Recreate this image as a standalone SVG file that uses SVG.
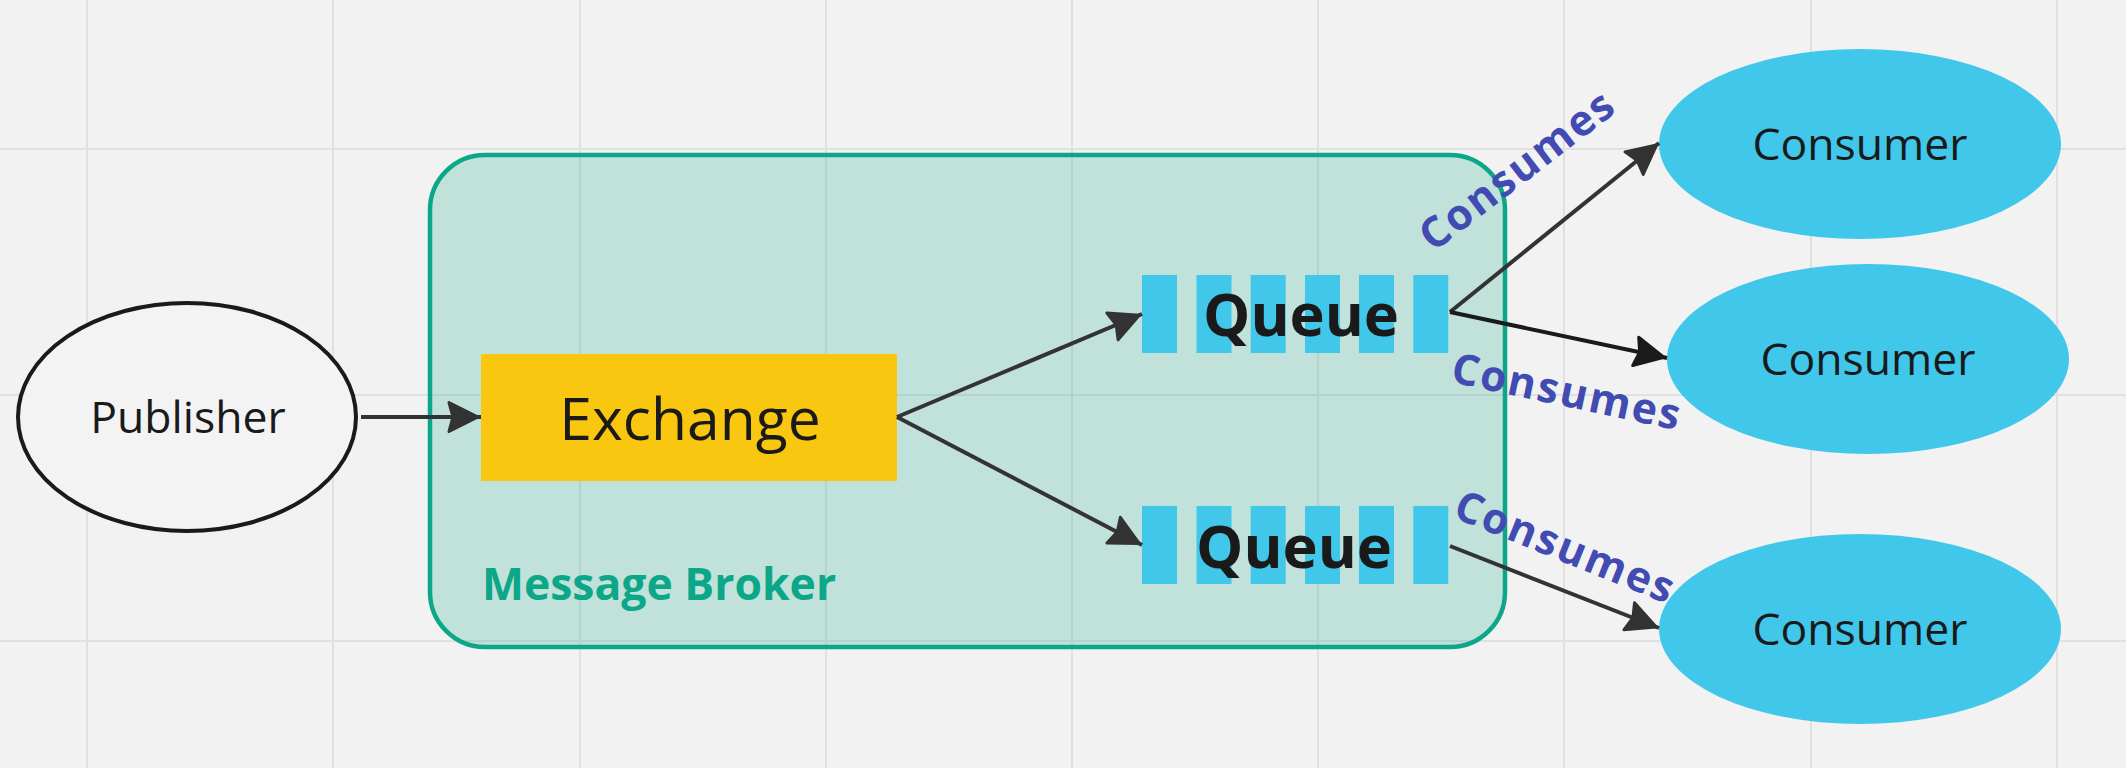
<svg xmlns="http://www.w3.org/2000/svg" width="2126" height="768" viewBox="0 0 2126 768">
<style>
.grid line{stroke:#E0E0E0;stroke-width:2}
.lbl{font-family:"Open Sans","Liberation Sans",sans-serif;fill:#1a1a1a;text-anchor:middle}
.cons{font-family:"Open Sans","Liberation Sans",sans-serif;font-weight:700;font-size:42.5px;letter-spacing:2px;fill:#414BB2;text-anchor:middle}
.bar{fill:#40C7EA}
.edge{fill:none;stroke:#333333;stroke-width:4}
</style>
<defs>
<marker id="ah" markerUnits="userSpaceOnUse" markerWidth="60" markerHeight="60" refX="3" refY="0" viewBox="-40 -30 60 60" orient="auto" overflow="visible">
<path d="M-29,-14.5 L0,0 L-29,14.5 L-25,0 Z" fill="#333333" stroke="#333333" stroke-width="3" stroke-linejoin="round"/>
</marker>
<marker id="ah2" markerUnits="userSpaceOnUse" markerWidth="60" markerHeight="60" refX="3" refY="0" viewBox="-40 -30 60 60" orient="auto" overflow="visible">
<path d="M-29,-14.5 L0,0 L-29,14.5 L-25,0 Z" fill="#1a1a1a" stroke="#1a1a1a" stroke-width="3" stroke-linejoin="round"/>
</marker>
</defs>
<rect x="0" y="0" width="2126" height="768" fill="#F2F2F2"/>
<g class="grid">
<line x1="87" y1="0" x2="87" y2="768"/>
<line x1="333" y1="0" x2="333" y2="768"/>
<line x1="580" y1="0" x2="580" y2="768"/>
<line x1="826" y1="0" x2="826" y2="768"/>
<line x1="1072" y1="0" x2="1072" y2="768"/>
<line x1="1318" y1="0" x2="1318" y2="768"/>
<line x1="1564" y1="0" x2="1564" y2="768"/>
<line x1="1811" y1="0" x2="1811" y2="768"/>
<line x1="2057" y1="0" x2="2057" y2="768"/>
<line x1="0" y1="149" x2="2126" y2="149"/>
<line x1="0" y1="395" x2="2126" y2="395"/>
<line x1="0" y1="641" x2="2126" y2="641"/>
</g>
<g id="broker">
<rect x="430" y="155" width="1075" height="492" rx="55" ry="55" fill="#0CA789" fill-opacity="0.21" stroke="#0CA789" stroke-width="4.5"/>
<text x="482" y="600" font-family="Open Sans, Liberation Sans, sans-serif" font-weight="700" font-size="44.5" fill="#0CA789">Message Broker</text>
</g>
<g id="publisher">
<ellipse cx="187" cy="417" rx="169" ry="114" fill="#F3F3F3" stroke="#1a1a1a" stroke-width="4"/>
<text class="lbl" x="188" y="433" font-size="44.5">Publisher</text>
</g>
<g id="exchange">
<rect x="481" y="354" width="416" height="127" fill="#FAC710"/>
<text class="lbl" x="690" y="440" font-size="58.8">Exchange</text>
</g>
<g id="queue1">
<rect class="bar" x="1142" y="275" width="35" height="78"/>
<rect class="bar" x="1196.5" y="275" width="35" height="78"/>
<rect class="bar" x="1250.7" y="275" width="35" height="78"/>
<rect class="bar" x="1305" y="275" width="35" height="78"/>
<rect class="bar" x="1359" y="275" width="35" height="78"/>
<rect class="bar" x="1413.3" y="275" width="35" height="78"/>
<text class="lbl" x="1301" y="336" font-size="59.5" font-weight="700">Queue</text>
</g>
<g id="queue2">
<rect class="bar" x="1142" y="506" width="35" height="78"/>
<rect class="bar" x="1196.5" y="506" width="35" height="78"/>
<rect class="bar" x="1250.7" y="506" width="35" height="78"/>
<rect class="bar" x="1305" y="506" width="35" height="78"/>
<rect class="bar" x="1359" y="506" width="35" height="78"/>
<rect class="bar" x="1413.3" y="506" width="35" height="78"/>
<text class="lbl" x="1294" y="568" font-size="59.5" font-weight="700">Queue</text>
</g>
<g id="consumer1">
<ellipse cx="1860" cy="144" rx="201" ry="95" fill="#40C7EA"/>
<text class="lbl" x="1860" y="160" font-size="44.5">Consumer</text>
</g>
<g id="consumer2">
<ellipse cx="1868" cy="359" rx="201" ry="95" fill="#40C7EA"/>
<text class="lbl" x="1868" y="375" font-size="44.5">Consumer</text>
</g>
<g id="consumer3">
<ellipse cx="1860" cy="629" rx="201" ry="95" fill="#40C7EA"/>
<text class="lbl" x="1860" y="645" font-size="44.5">Consumer</text>
</g>
<g id="connectors">
<path class="edge" d="M361,417 L481,417" marker-end="url(#ah)"/>
<path class="edge" d="M897,417 L1142,314" marker-end="url(#ah)"/>
<path class="edge" d="M897,417 L1142,545" marker-end="url(#ah)"/>
<path class="edge" d="M1450,312 L1659,143" marker-end="url(#ah)"/>
<path class="edge" d="M1450,312 L1667,358" style="stroke:#1a1a1a" marker-end="url(#ah2)"/>
<path class="edge" d="M1450,546 L1659,628" marker-end="url(#ah)"/>
<text class="cons" transform="translate(1517.5,171.7) rotate(-37.5)" x="1" y="13">Consumes</text>
<text class="cons" transform="translate(1565.8,393.3) rotate(12)" x="1" y="13">Consumes</text>
<text class="cons" transform="translate(1564,548.3) rotate(22)" x="1" y="13">Consumes</text>
</g>
</svg>
